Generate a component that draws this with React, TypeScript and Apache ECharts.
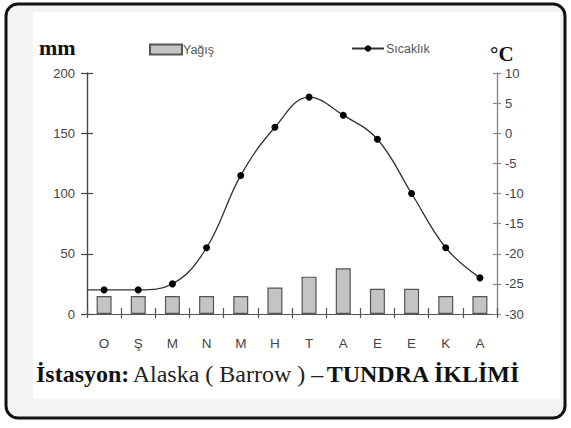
import React, { useEffect, useRef } from "react";
import * as echarts from "echarts";

const months = ["O", "Ş", "M", "N", "M", "H", "T", "A", "E", "E", "K", "A"];
const precipitation = [15, 15, 15, 15, 15, 22, 31, 38, 21, 21, 15, 15];
const temperature = [-26, -26, -25, -19, -7, 1, 6, 3, -1, -10, -19, -24];
// line begins at the left axis (x = -0.5) at the January level
const lineStart = { x: -0.5, value: -26 };
const mmTicks = { min: 0, max: 200, interval: 50 };
const tempTicks = { min: -30, max: 10, interval: 5 };

const SANS = "'Liberation Sans', Arial, sans-serif";
const SERIF = "'Liberation Serif', 'Times New Roman', serif";

export default function App() {
  const ref = useRef<HTMLDivElement>(null);
  useEffect(() => {
    const chart = echarts.init(ref.current!, null, { renderer: "svg" });
    const lineData: any[] = [
      { value: [lineStart.x, lineStart.value], symbol: "none" },
      ...temperature.map((t, i) => [i, t]),
    ];
    const yBase = (side: "left" | "right", ticks: any, color: string, inside: boolean, label: boolean, len: number) => ({
      type: "value",
      position: side,
      offset: 0,
      min: ticks.min,
      max: ticks.max,
      interval: ticks.interval,
      splitLine: { show: false },
      axisLine: { show: true, onZero: false, lineStyle: { color, width: 1.2 } },
      axisTick: { show: true, inside, length: len, lineStyle: { color, width: 1.2 } },
      axisLabel: label
        ? { show: true, color: "#444", fontFamily: SANS, fontSize: 13, margin: side === "left" ? 12 : 8 }
        : { show: false },
    });
    const xCat = (inside: boolean, label: boolean) => ({
      type: "category",
      data: months,
      position: "bottom",
      axisLine: { show: true, onZero: false, lineStyle: { color: "#555", width: 1.2 } },
      axisTick: { show: true, inside, length: inside ? 6 : 4, interval: 0, lineStyle: { color: "#555", width: 1.2 } },
      axisLabel: label
        ? { show: true, interval: 0, color: "#444", fontFamily: SANS, fontSize: 13.5, margin: 22 }
        : { show: false },
      splitLine: { show: false },
    });
    chart.setOption({
      animation: false,
      backgroundColor: "#ffffff",
      graphic: [
        {
          type: "rect",
          z: -10,
          shape: { x: 6, y: 4, width: 559, height: 414, r: 12 },
          style: { fill: "#f3f3f3", stroke: "#111", lineWidth: 3 },
          silent: true,
        },
        {
          type: "rect",
          z: -9,
          shape: { x: 33, y: 12, width: 527, height: 387 },
          style: { fill: "#ffffff" },
          silent: true,
        },
        {
          type: "text",
          left: 39,
          top: 36,
          style: { text: "mm", font: `bold 22px ${SERIF}`, fill: "#111" },
        },
        {
          type: "text",
          left: 490,
          top: 43,
          style: { text: "°C", font: `bold 21px ${SERIF}`, fill: "#111" },
        },
        {
          type: "text",
          left: 36,
          top: 362,
          style: {
            text: "{b|İstasyon:} {n|Alaska ( Barrow ) –} {b|TUNDRA İKLİMİ}",
            rich: {
              b: { font: `bold 24px ${SERIF}`, fill: "#111" },
              n: { font: `24px ${SERIF}`, fill: "#222" },
            },
          },
        },
      ],
      legend: [
        {
          data: ["Yağış"],
          left: 144,
          top: 38,
          icon: "rect",
          itemWidth: 32,
          itemHeight: 10,
          itemGap: 4,
          textStyle: { color: "#555", fontFamily: SANS, fontSize: 12.5, padding: [0, 0, 0, -4] },
        },
        {
          data: ["Sıcaklık"],
          left: 346,
          top: 37,
          itemWidth: 32,
          itemHeight: 8,
          textStyle: { color: "#555", fontFamily: SANS, fontSize: 12.5, padding: [0, 0, 0, -3] },
        },
      ],
      grid: { left: 87, right: 74, top: 73, bottom: 114, containLabel: false },
      xAxis: [
        xCat(false, true),
        xCat(true, false),
        {
          type: "value",
          min: -0.5,
          max: 11.5,
          show: false,
          axisLine: { onZero: false },
          splitLine: { show: false },
        },
      ],
      yAxis: [
        yBase("left", mmTicks, "#444", false, true, 6),
        yBase("left", mmTicks, "#444", true, false, 6),
        yBase("right", tempTicks, "#888", false, true, 4),
        yBase("right", tempTicks, "#888", true, false, 4),
      ],
      series: [
        {
          name: "Yağış",
          type: "bar",
          xAxisIndex: 0,
          yAxisIndex: 0,
          data: precipitation,
          barWidth: 15,
          itemStyle: { color: "#c4c4c4", borderColor: "#555", borderWidth: 1.2 },
        },
        {
          name: "Sıcaklık",
          type: "line",
          xAxisIndex: 2,
          yAxisIndex: 2,
          data: lineData,
          smooth: 0.4,
          symbol: "circle",
          symbolSize: 7,
          lineStyle: { color: "#333", width: 1.3 },
          itemStyle: { color: "#000" },
          z: 5,
        },
      ],
    });
    return () => chart.dispose();
  }, []);
  return (
    <div
      ref={ref}
      style={{ position: "fixed", left: 0, top: 0, width: 571, height: 428 }}
    />
  );
}
